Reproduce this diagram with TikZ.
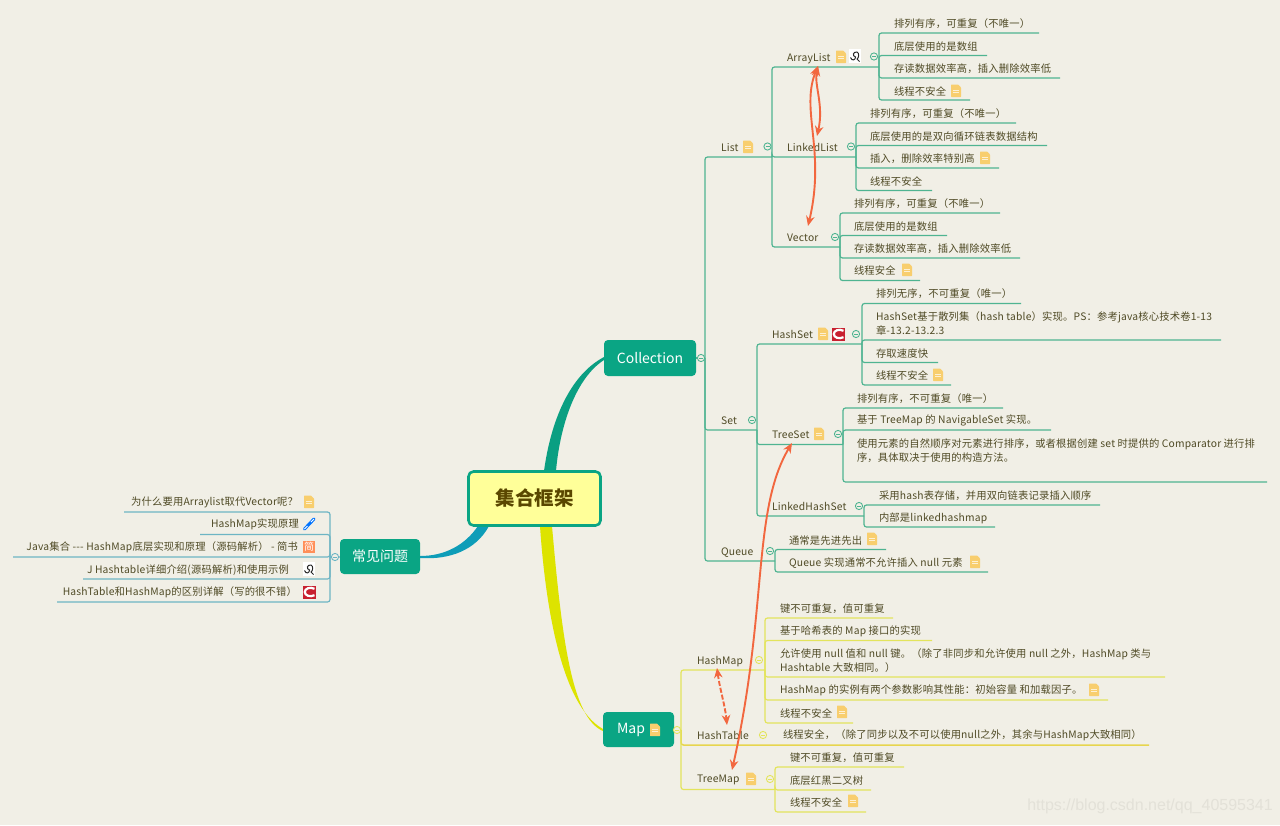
\documentclass[tikz,border=0pt]{standalone}
\usepackage{fontspec}
\setmainfont{Noto Sans CJK SC}
\newfontfamily\leaffont[LetterSpace=1.8]{Noto Sans CJK SC}
\newfontfamily\wmfont{Liberation Sans}
\usetikzlibrary{arrows.meta,calc}
\definecolor{bgc}{HTML}{F1EFE6}
\definecolor{teal}{HTML}{0AA584}
\definecolor{tealline}{HTML}{4FB491}
\definecolor{yelline}{HTML}{E3E45C}
\definecolor{bluline}{HTML}{6DB5C4}
\definecolor{txtc}{HTML}{4F4A25}
\definecolor{notec}{HTML}{F8CE6E}
\definecolor{relc}{HTML}{F2673F}
\definecolor{redc}{HTML}{C8202F}
\definecolor{rootfill}{HTML}{FFFF99}
\definecolor{roottxt}{HTML}{5A4700}
\definecolor{tealcurve}{HTML}{0A9F82}
\definecolor{yelcurve}{HTML}{DDE300}
\definecolor{blucurve}{HTML}{0E9DB8}
\definecolor{wmc}{HTML}{E3E1D8}
\tikzset{
  txt/.style={inner sep=0pt,outer sep=0pt,font=\leaffont\fontsize{10.3}{14}\selectfont,text=txtc,align=left,yshift=-0.7pt},
  main/.style={fill=teal,rounded corners=4pt,text=white,font=\fontsize{14}{16}\selectfont,inner sep=0pt},
  gbr/.style={draw=tealline,line width=1.2pt,rounded corners=2.5pt},
  ybr/.style={draw=yelline,line width=1.2pt,rounded corners=2.5pt},
  bbr/.style={draw=bluline,line width=1.2pt,rounded corners=2.5pt},
  rel/.style={draw=relc,line width=1.9pt,{Stealth[length=10pt,width=8.5pt]}-{Stealth[length=10pt,width=8.5pt]}},
}
% #1 branch style #2 name #3 parent #4 text x #5 text y #6 line y #7 line end x #8 text
\newcommand{\leaf}[8]{%
  \node[txt,anchor=west] (#2) at (#4,#5) {#8};
  \coordinate (#2E) at (#7,#6);
  \draw[#1] (#3E) |- (#2E);
}
% same, with text to the left
\newcommand{\lleaf}[8]{%
  \node[txt,anchor=east] (#2) at (#4,#5) {#8};
  \coordinate (#2E) at (#7,#6);
  \draw[#1] (#3E) |- (#2E);
}
\newcommand{\noteic}[2]{%
  \fill[notec,rounded corners=0.5pt] (#1-5,#2-6.5) -- (#1+2,#2-6.5) -- (#1+5,#2-3.5) -- (#1+5,#2+6) -- (#1-5,#2+6) -- cycle;
  \draw[white!70!notec,line width=.5pt] (#1-3,#2-1) -- (#1+3,#2-1) (#1-3,#2+1.5) -- (#1+3,#2+1.5);
}
\newcommand{\colic}[3]{%
  \draw[#3,fill=bgc,line width=.9pt] (#1,#2) circle (3.6);
  \draw[#3,line width=.7pt] (#1-2,#2) -- (#1+2,#2);
}
\newcommand{\redc}[2]{%
  \fill[redc] (#1-6.5,#2-6.5) rectangle (#1+6.5,#2+6.5);
  \draw[white,line width=2.2pt] (#1+5.5,#2-3.2) .. controls (#1+1,#2-5.5) and (#1-4.2,#2-3.5) .. (#1-4.2,#2) .. controls (#1-4.2,#2+3.5) and (#1+1,#2+5.5) .. (#1+5.5,#2+3.2);
}
\newcommand{\wic}[2]{%
  \fill[white] (#1-6,#2-7) rectangle (#1+6,#2+7);
  \draw[black!85,line width=1pt] (#1-4.5,#2+1.5) .. controls (#1-3,#2+5.5) and (#1+.5,#2+4) .. (#1+.5,#2+1) .. controls (#1-3,#2) and (#1-2,#2-4.5) .. (#1+2,#2-4) .. controls (#1+4.5,#2-3) and (#1+4,#2+2) .. (#1+2,#2+3) -- (#1+4.5,#2+5.5);
}
\begin{document}
\begin{tikzpicture}[x=1pt,y=-1pt]
\useasboundingbox (0,0) rectangle (1280,825);
\fill[bgc] (0,0) rectangle (1280,825);
% main curved branches
\fill[tealcurve] (544,471) .. controls (551,420) and (570,375) .. (604,357) -- (604,360) .. controls (576,378) and (560,425) .. (556,471) -- cycle;
\fill[yelcurve] (540,526) .. controls (545,600) and (560,705) .. (603,729) -- (603,731) .. controls (572,718) and (562,640) .. (552,526) -- cycle;
\fill[blucurve] (478,526) .. controls (465,545) and (445,556) .. (420,556) -- (420,558) .. controls (450,560) and (476,550) .. (489,526) -- cycle;
% main nodes
\node[draw=teal,line width=2.6pt,fill=rootfill,rounded corners=5pt,minimum width=132pt,minimum height=54pt,inner sep=0pt,text=roottxt,font=\fontsize{19.5}{22}\selectfont\bfseries] (root) at (534.5,498.5) {集合框架};
\node[main,minimum width=92pt,minimum height=36pt] (coll) at (650,358) {Collection};
\node[main,minimum width=71pt,minimum height=35pt] (map) at (638.5,729.5) {\hspace*{-15pt}Map};
\node[main,minimum width=80pt,minimum height=35pt] (faq) at (380,556.5) {常见问题};
\noteic{655}{730}
\coordinate (collE) at (705,358);
\coordinate (mapE) at (681,730);
\coordinate (faqE) at (330,557);
\draw[gbr] (coll) -- (collE);
\draw[ybr] (map) -- (mapE);
\draw[bbr] (faq) -- (faqE);
% Collection
\leaf{gbr}{list}{coll}{721}{147}{157}{772}{List}
\leaf{gbr}{set}{coll}{721}{420}{430}{757}{Set}
\leaf{gbr}{queue}{coll}{721}{551.7}{561}{775}{Queue}
% List
\leaf{gbr}{al}{list}{787}{57.7}{67}{879}{ArrayList}
\leaf{gbr}{ll}{list}{787}{147}{157}{856}{LinkedList}
\leaf{gbr}{vec}{list}{787}{237}{247}{840}{Vector}
\leaf{gbr}{al1}{al}{894}{23}{33}{1039}{排列有序^^^^ff0c可重复^^^^ff08不唯一^^^^ff09}
\leaf{gbr}{al2}{al}{894}{45.5}{55.5}{987}{底层使用的是数组}
\leaf{gbr}{al3}{al}{894}{68}{78}{1060}{存读数据效率高^^^^ff0c插入删除效率低}
\leaf{gbr}{al4}{al}{894}{91}{100}{970}{线程不安全}
\leaf{gbr}{ll1}{ll}{870}{113}{123}{1016}{排列有序^^^^ff0c可重复^^^^ff08不唯一^^^^ff09}
\leaf{gbr}{ll2}{ll}{870}{135.5}{145.5}{1047}{底层使用的是双向循环链表数据结构}
\leaf{gbr}{ll3}{ll}{870}{158}{168}{999}{插入^^^^ff0c删除效率特别高}
\leaf{gbr}{ll4}{ll}{870}{181}{190.5}{932}{线程不安全}
\leaf{gbr}{v1}{vec}{854}{203}{213}{1000}{排列有序^^^^ff0c可重复^^^^ff08不唯一^^^^ff09}
\leaf{gbr}{v2}{vec}{854}{225.5}{235.5}{947}{底层使用的是数组}
\leaf{gbr}{v3}{vec}{854}{248}{258}{1020}{存读数据效率高^^^^ff0c插入删除效率低}
\leaf{gbr}{v4}{vec}{854}{270}{280.5}{920}{线程安全}
% Set
\leaf{gbr}{hs}{set}{772}{334}{344}{862}{HashSet}
\leaf{gbr}{ts}{set}{772}{434.5}{444.5}{843}{TreeSet}
\leaf{gbr}{lhs}{set}{772}{506}{516}{864}{LinkedHashSet}
\leaf{gbr}{hs1}{hs}{876}{293}{303.5}{1021}{排列无序^^^^ff0c不可重复^^^^ff08唯一^^^^ff09}
\leaf{gbr}{hs2}{hs}{876}{323}{340}{1221}{HashSet基于散列集^^^^ff08hash table^^^^ff09实现。PS^^^^ff1a参考java核心技术卷1-13\\章-13.2-13.2.3}
\leaf{gbr}{hs3}{hs}{876}{353}{362.5}{938}{存取速度快}
\leaf{gbr}{hs4}{hs}{876}{375}{385}{951}{线程不安全}
\leaf{gbr}{ts1}{ts}{857}{398}{408}{1003}{排列有序^^^^ff0c不可重复^^^^ff08唯一^^^^ff09}
\leaf{gbr}{ts2}{ts}{857}{420}{430}{1051}{基于 TreeMap 的 NavigableSet 实现。}
\leaf{gbr}{ts3}{ts}{857}{450}{482}{1267}{使用元素的自然顺序对元素进行排序^^^^ff0c或者根据创建 set 时提供的 Comparator 进行排\\序^^^^ff0c具体取决于使用的构造方法。}
\leaf{gbr}{lh1}{lhs}{879}{495}{505}{1100}{采用hash表存储^^^^ff0c并用双向链表记录插入顺序}
\leaf{gbr}{lh2}{lhs}{879}{518}{527}{995}{内部是linkedhashmap}
\leaf{gbr}{q1}{queue}{789}{540}{549.5}{886}{通常是先进先出}
\leaf{gbr}{q2}{queue}{789}{562}{572}{988}{Queue 实现通常不允许插入 null 元素}
% Map
\leaf{ybr}{hm}{map}{697}{660.7}{670}{765}{HashMap}
\leaf{ybr,draw=yelline!85!orange,line width=1.5pt}{ht}{map}{697}{735}{745}{1149}{HashTable}
\leaf{ybr}{tm}{map}{697}{779}{789.5}{775}{TreeMap}
\node[txt,anchor=west] (ht1) at (783,735) {线程安全^^^^ff0c^^^^ff08除了同步以及不可以使用null之外^^^^ff0c其余与HashMap大致相同^^^^ff09};
\leaf{ybr}{hm1}{hm}{780}{608}{618}{893}{键不可重复^^^^ff0c值可重复}
\leaf{ybr}{hm2}{hm}{780}{631}{640.5}{932}{基于哈希表的 Map 接口的实现}
\leaf{ybr}{hm3}{hm}{780}{660}{677}{1165}{允许使用 null 值和 null 键。^^^^ff08除了非同步和允许使用 null 之外^^^^ff0cHashMap 类与\\Hashtable 大致相同。^^^^ff09}
\leaf{ybr}{hm4}{hm}{780}{690}{700}{1108}{HashMap 的实例有两个参数影响其性能^^^^ff1a初始容量 和加载因子。}
\leaf{ybr}{hm5}{hm}{780}{713}{723}{853}{线程不安全}
\leaf{ybr}{tm1}{tm}{790}{757}{767}{904}{键不可重复^^^^ff0c值可重复}
\leaf{ybr}{tm2}{tm}{790}{780}{790}{871}{底层红黑二叉树}
\leaf{ybr}{tm3}{tm}{790}{802}{812}{866}{线程不安全}
% FAQ
\lleaf{bbr}{f1}{faq}{298}{502}{512}{124}{为什么要用Arraylist取代Vector呢^^^^ff1f}
\lleaf{bbr}{f2}{faq}{299}{524}{534.5}{200}{HashMap实现原理}
\lleaf{bbr}{f3}{faq}{298}{547}{557}{13}{Java集合 -{}-{}- HashMap底层实现和原理^^^^ff08源码解析^^^^ff09 - 简书}
\lleaf{bbr}{f4}{faq}{289}{569}{579}{83}{J Hashtable详细介绍(源码解析)和使用示例}
\lleaf{bbr}{f5}{faq}{297}{592}{602}{57}{HashTable和HashMap的区别详解^^^^ff08写的很不错^^^^ff09}
% icons
\foreach \p/\q in {748/147,841/57,956/91,985/158,907/270,823/334,938/375,819/434,872/539,975/562,1094/690,842/712,751/779,853/801,309/502}{\noteic{\p}{\q}}
\wic{855}{56}
\wic{309}{569}
\redc{838}{334}
\redc{309}{592}
\fill[red!35!orange!65] (303,541) rectangle (315,553);
\node[inner sep=0pt,text=white,font=\fontsize{10}{10}\selectfont] (jian) at (309,547) {简};
\draw[blue!55!cyan,line width=3pt,line cap=round] (304.5,529) -- (314,519);
\draw[white,line width=1pt] (304.5,529) -- (307.5,526) (311,522) -- (314,519);
% collapse marks
\colic{767.5}{146.5}{tealline}
\colic{874}{56.5}{tealline}
\colic{851}{146.5}{tealline}
\colic{835}{237}{tealline}
\colic{701}{358}{tealline}
\colic{752}{420}{tealline}
\colic{856}{334}{tealline}
\colic{838}{434}{tealline}
\colic{859}{506}{tealline}
\colic{770}{551}{tealline}
\colic{677}{730}{yelline}
\colic{759}{660}{yelline}
\colic{763}{735}{yelline}
\colic{770}{779}{yelline}
\colic{335}{557}{bluline}
% relations
\coordinate (r1) at (818,66);
\coordinate (r2) at (817,136);
\coordinate (r3) at (808,226);
\coordinate (r4) at (792,443);
\coordinate (r5) at (732,770);
\coordinate (r6) at (717,668);
\coordinate (r7) at (727,725);
\draw[rel] (r1) .. controls (814,85) and (824,105) .. (r2);
\draw[rel] (r1) .. controls (800,110) and (826,150) .. (r3);
\draw[rel] (r4) .. controls (752,510) and (768,610) .. (r5);
\draw[rel,dash pattern=on 5pt off 2pt] (r6) .. controls (720,690) and (725,705) .. (r7);
% watermark
\node[inner sep=0pt,anchor=east,text=wmc,font=\wmfont\fontsize{16}{18}\selectfont] (wm) at (1273,806) {https://blog.csdn.net/qq\_40595341};
\end{tikzpicture}
\end{document}
